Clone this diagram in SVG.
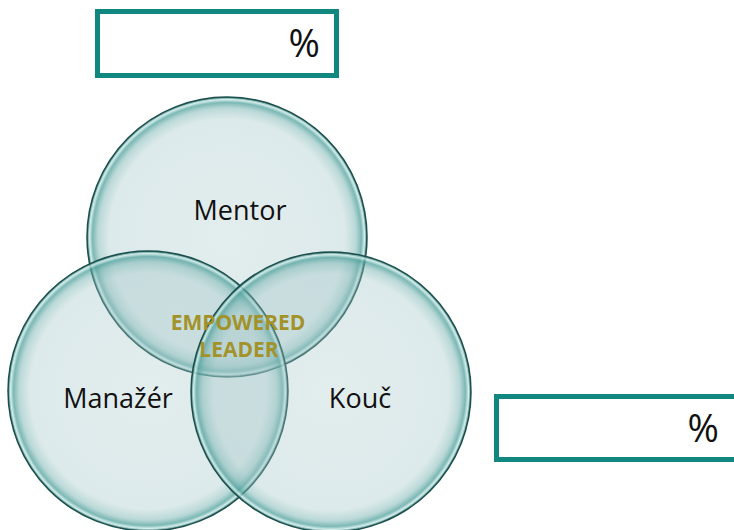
<svg xmlns="http://www.w3.org/2000/svg" width="734" height="530" viewBox="0 0 734 530">
<defs>
<radialGradient id="glass" cx="0.5" cy="0.5" r="0.5">
<stop offset="0" stop-color="rgb(165,198,200)" stop-opacity="0.32"/>
<stop offset="0.84" stop-color="rgb(160,196,198)" stop-opacity="0.36"/>
<stop offset="0.92" stop-color="rgb(115,178,175)" stop-opacity="0.5"/>
<stop offset="0.96" stop-color="rgb(80,160,156)" stop-opacity="0.75"/>
<stop offset="0.982" stop-color="rgb(205,236,233)" stop-opacity="0.85"/>
<stop offset="1" stop-color="rgb(35,100,98)" stop-opacity="0.95"/>
</radialGradient>
</defs>
<style>
.circ{fill:url(#glass);stroke:#1a4f4d;stroke-width:1.5}
.lbl{font-family:"Open Sans","DejaVu Sans",sans-serif;font-size:27px;fill:#111;text-anchor:middle}
.core{font-family:"Open Sans","DejaVu Sans",sans-serif;font-size:21px;font-weight:bold;fill:#a3922a;text-anchor:middle}
.box{fill:#fff;stroke:#108880;stroke-width:5}
.pct{font-family:"Open Sans","DejaVu Sans",sans-serif;font-size:38px;fill:#111;text-anchor:end}
</style>
<rect width="734" height="530" fill="#fff"/>
<g id="box-top">
<rect class="box" x="97.5" y="11.5" width="239" height="64"/>
<text class="pct" x="320" y="57">%</text>
</g>
<g id="box-bottom">
<rect class="box" x="496.5" y="396.5" width="250" height="63"/>
<text class="pct" x="719" y="442">%</text>
</g>
<g id="connectors"></g>
<g id="mentor">
<circle class="circ" cx="227" cy="237" r="140"/>
</g>
<g id="manazer">
<circle class="circ" cx="148" cy="391" r="140"/>
</g>
<g id="kouc">
<circle class="circ" cx="331" cy="392" r="140"/>
</g>
<g id="labels">
<text class="lbl" x="240" y="220">Mentor</text>
<text class="lbl" x="118" y="408">Manažér</text>
<text class="lbl" x="360" y="408">Kouč</text>
<text class="core" x="238" y="330">EMPOWERED</text>
<text class="core" x="239" y="357">LEADER</text>
</g>
</svg>
